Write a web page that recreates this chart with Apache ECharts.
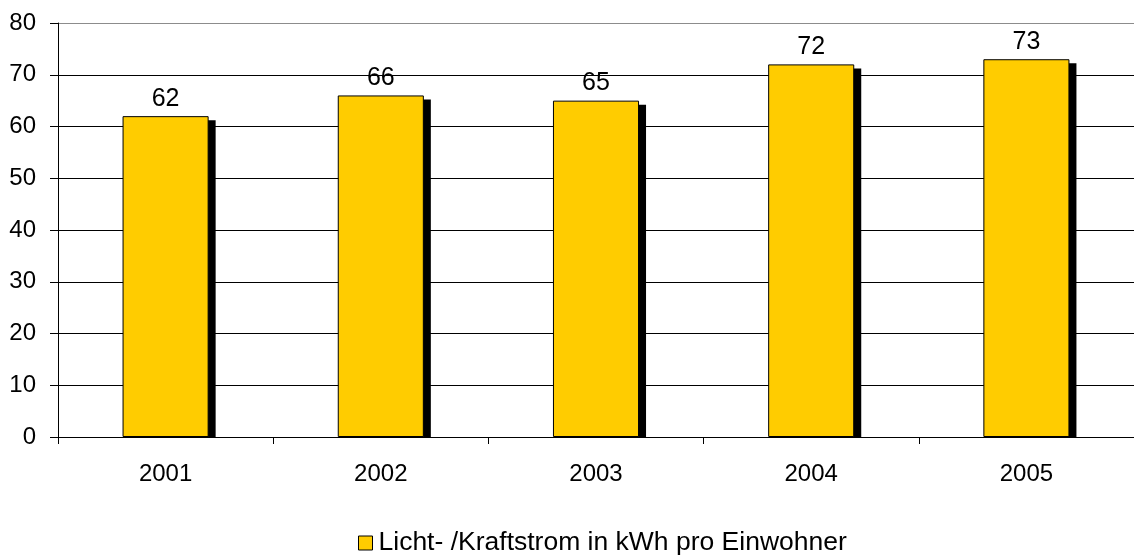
<!DOCTYPE html>
<html>
<head>
<meta charset="utf-8">
<script src="https://cdn.jsdelivr.net/npm/echarts@6/dist/echarts.min.js"></script>
<style>
  html, body { margin: 0; padding: 0; background: #fff; }
  #chart { width: 1134px; height: 555px; }
</style>
</head>
<body>
<div id="chart"></div>
<script>
// Jahre und Verbrauchswerte
const years = ['2001', '2002', '2003', '2004', '2005'];
const values = [62, 66, 65, 72, 73];
const seriesName = 'Licht- /Kraftstrom in kWh pro Einwohner';
const yTicks = { min: 0, max: 80, interval: 10 };

const FONT = '"Liberation Sans", Arial, sans-serif';
const BAR_WIDTH = 0.4;    // share of the category band
const SHADOW_DX = 7;      // px
const SHADOW_DY = 4;      // px

const chart = echarts.init(document.getElementById('chart'));

// grid lines: black, the top one grey
const splitColors = [];
for (let v = yTicks.min; v <= yTicks.max; v += yTicks.interval) {
  splitColors.push(v === yTicks.max ? '#8c8c8c' : '#000');
}

chart.setOption({
  animation: false,
  backgroundColor: '#fff',
  textStyle: { fontFamily: FONT },
  grid: { left: 58, right: 0, top: 23, bottom: 118, containLabel: false },
  legend: {
    data: [seriesName],
    left: 358,
    top: 529,
    padding: 0,
    itemWidth: 14,
    itemHeight: 14,
    itemGap: 6,
    icon: 'rect',
    textStyle: { fontFamily: FONT, fontSize: 26.5, lineHeight: 28, color: '#000', padding: [0, 0, 0, 1] },
    itemStyle: { borderColor: '#000', borderWidth: 1 }
  },
  xAxis: {
    type: 'category',
    data: years,
    axisLine: { lineStyle: { color: '#000', width: 1 } },
    axisTick: { show: true, alignWithLabel: false, length: 7, lineStyle: { color: '#000' } },
    axisLabel: { fontFamily: FONT, fontSize: 24, color: '#000', margin: 25 }
  },
  yAxis: {
    type: 'value',
    min: yTicks.min,
    max: yTicks.max,
    interval: yTicks.interval,
    axisLine: { show: true, lineStyle: { color: '#000', width: 1 } },
    axisTick: { show: true, length: 8, lineStyle: { color: '#000' } },
    axisLabel: { fontFamily: FONT, fontSize: 24, color: '#000', margin: 22 },
    splitLine: { show: true, lineStyle: { color: splitColors, width: 1 } }
  },
  series: [
    {
      // drop shadow behind each bar
      type: 'custom',
      name: 'shadow',
      z: 1,
      silent: true,
      legendHoverLink: false,
      data: values.map((v, i) => [i, v]),
      renderItem: function (params, api) {
        const top = api.coord([api.value(0), api.value(1)]);
        const base = api.coord([api.value(0), 0]);
        const band = api.size([1, 0])[0];
        const w = band * BAR_WIDTH;
        const x = top[0] - w / 2 + SHADOW_DX;
        const y = top[1] + SHADOW_DY;
        return {
          type: 'rect',
          shape: { x: x, y: y, width: w, height: base[1] - y },
          style: { fill: '#000' }
        };
      }
    },
    {
      type: 'bar',
      name: seriesName,
      z: 3,
      data: values,
      barWidth: (BAR_WIDTH * 100) + '%',
      itemStyle: { color: '#FFCC00', borderColor: '#000', borderWidth: 1 },
      label: {
        show: true,
        position: 'top',
        distance: 5,
        fontFamily: FONT,
        fontSize: 25,
        color: '#000'
      }
    }
  ]
});
</script>
</body>
</html>
